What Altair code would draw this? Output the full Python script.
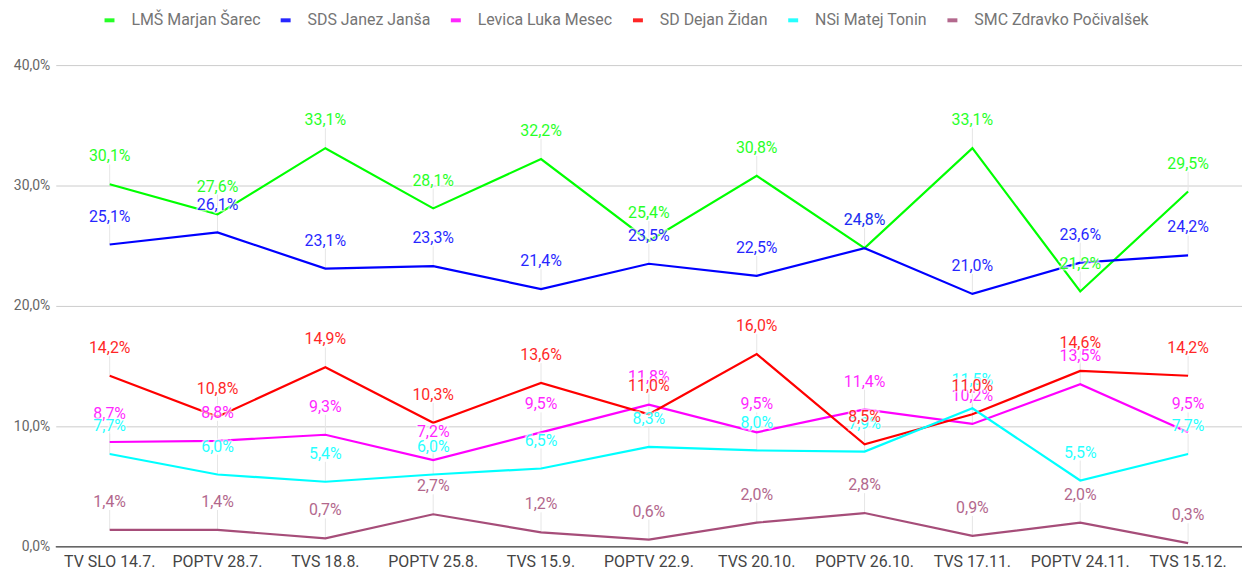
import altair as alt
import pandas as pd

categories = ["TV SLO 14.7.", "POPTV 28.7.", "TVS 18.8.", "POPTV 25.8.", "TVS 15.9.",
              "POPTV 22.9.", "TVS 20.10.", "POPTV 26.10.", "TVS 17.11.", "POPTV 24.11.", "TVS 15.12."]
parties = ["LMŠ Marjan Šarec", "SDS Janez Janša", "Levica Luka Mesec",
           "SD Dejan Židan", "NSi Matej Tonin", "SMC Zdravko Počivalšek"]
colors = ["#00ff00", "#0000ff", "#ff00ff", "#ff0000", "#00ffff", "#a64d79"]

lms = [30.1, 27.6, 33.1, 28.1, 32.2, 25.4, 30.8, 24.8, 33.1, 21.2, 29.5]
sds = [25.1, 26.1, 23.1, 23.3, 21.4, 23.5, 22.5, 24.8, 21.0, 23.6, 24.2]
levica = [8.7, 8.8, 9.3, 7.2, 9.5, 11.8, 9.5, 11.4, 10.2, 13.5, 9.5]
sd = [14.2, 10.8, 14.9, 10.3, 13.6, 11.0, 16.0, 8.5, 11.0, 14.6, 14.2]
nsi = [7.7, 6.0, 5.4, 6.0, 6.5, 8.3, 8.0, 7.9, 11.5, 5.5, 7.7]
smc = [1.4, 1.4, 0.7, 2.7, 1.2, 0.6, 2.0, 2.8, 0.9, 2.0, 0.3]

series = [lms, sds, levica, sd, nsi, smc]
rows = []
for p, vals in zip(parties, series):
    for i, (c, v) in enumerate(zip(categories, vals)):
        rows.append({"poll": c, "idx": i, "party": p, "value": v})
df = pd.DataFrame(rows)
df["label"] = df["value"].map(lambda v: f"{v:.1f}".replace(".", ",") + "%")

FONT = "Roboto"

x_enc = alt.X("poll:N", sort=categories, title=None,
              scale=alt.Scale(paddingInner=0, paddingOuter=0),
              axis=alt.Axis(labelAngle=0, labelFontSize=16, labelColor="#444444",
                            labelFont=FONT, ticks=False, domain=False,
                            grid=False, labelPadding=7))
y_enc = alt.Y("value:Q", title=None,
              scale=alt.Scale(domain=[0, 40]),
              axis=alt.Axis(values=[0, 10, 20, 30, 40], labelFontSize=14, labelColor="#666666",
                            labelFont=FONT, ticks=False, domain=False, gridColor="#cccccc",
                            labelPadding=6,
                            labelExpr="replace(format(datum.value, '.1f'), '.', ',') + '%'"))
color_enc = alt.Color("party:N", sort=parties,
                      scale=alt.Scale(domain=parties, range=colors),
                      legend=alt.Legend(title=None, orient="none", direction="horizontal",
                                        columns=6, legendX=46, legendY=-53,
                                        symbolType="M-1,-0.4L1,-0.4L1,0.4L-1,0.4Z",
                                        symbolSize=100, symbolStrokeWidth=0,
                                        labelFont=FONT, labelFontSize=16, labelColor="#757575",
                                        labelLimit=400, columnPadding=17, labelOffset=14))

base = alt.Chart(df)

stems = base.mark_rule(color="#e6e6e6", strokeWidth=1, y2Offset=-20).encode(
    x=x_enc, y=y_enc, y2="value:Q")

baseline = alt.Chart(pd.DataFrame({"zero": [0]})).mark_rule(
    color="#666666", strokeWidth=1.5).encode(y=alt.Y("zero:Q"))

lines = base.mark_line(strokeWidth=2.2).encode(
    x=x_enc, y=y_enc, color=color_enc, order=alt.Order("idx:Q"))

layers = [stems, baseline, lines]
label_order = [parties[0], parties[1], parties[2], parties[4], parties[3], parties[5]]
for p in label_order:
    sub = base.transform_filter(alt.datum.party == p)
    halo = sub.mark_text(dy=-28, fontSize=16, font=FONT, stroke="white", strokeWidth=3,
                         strokeOpacity=0.6, fill="white", fillOpacity=0.6).encode(
        x=x_enc, y=y_enc, text="label:N")
    txt = sub.mark_text(dy=-28, fontSize=16, font=FONT, opacity=0.85).encode(
        x=x_enc, y=y_enc, text="label:N", color=color_enc)
    layers += [halo, txt]

chart = alt.layer(*layers).properties(
    width=1192, height=484,
    background="white",
    autosize=alt.AutoSizeParams(type="none"),
    padding={"left": 48, "top": 56, "right": 0, "bottom": 25},
).configure_view(strokeWidth=0, stroke="transparent").configure_axis(
    domain=False, ticks=False).configure_axisX(grid=False)

chart.save("out.html", embed_options={"renderer": "svg", "actions": False})
